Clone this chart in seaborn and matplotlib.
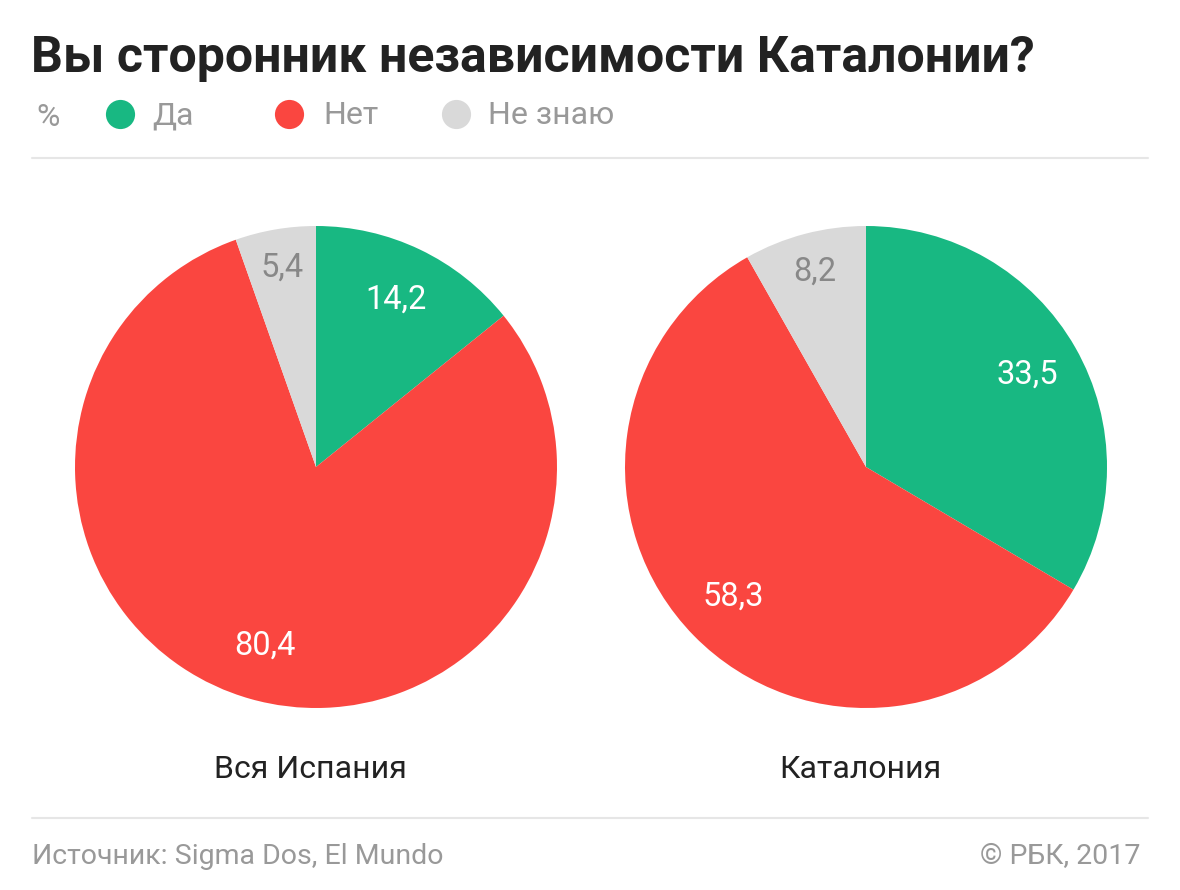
import numpy as np
import matplotlib.pyplot as plt
import seaborn as sns

# data
title = "Вы сторонник независимости Каталонии?"
categories = ["Да", "Нет", "Не знаю"]
regions = ["Вся Испания", "Каталония"]
spain_values = [14.2, 80.4, 5.4]
catalonia_values = [33.5, 58.3, 8.2]
source = "Источник: Sigma Dos, El Mundo"
credit = "© РБК, 2017"

colors = ["#18b882", "#fa4640", "#d9d9d9"]
label_colors = ["white", "white", "#888888"]

sns.set_theme(style="white")
plt.rcParams["font.family"] = ["Roboto", "DejaVu Sans"]

W, H = 1180, 890
fig = plt.figure(figsize=(W / 100, H / 100), dpi=100)
fig.patch.set_facecolor("white")


def fx(px):
    return px / W


def fy(py):
    return 1 - py / H


# title
fig.text(fx(31), fy(72), title, fontsize=36, fontweight="bold", color="#222222",
         ha="left", va="baseline")

# legend row
fig.text(fx(36), fy(126), "%", fontsize=23, color="#999999", ha="left", va="baseline")
for cx, tx, cat, col in zip([120, 289, 456], [152, 323, 488], categories, colors):
    fig.add_artist(plt.Line2D([fx(cx)], [fy(114)], marker="o", markersize=21,
                              markeredgewidth=0, color=col, transform=fig.transFigure))
    fig.text(fx(tx), fy(124), cat, fontsize=23, color="#999999", ha="left", va="baseline")

# separators
for y in [158, 818]:
    fig.add_artist(plt.Line2D([fx(32), fx(1148)], [fy(y), fy(y)], color="#e6e6e6",
                              linewidth=1.5, transform=fig.transFigure))

# pies
centers = [(316, 467), (866, 467)]
radius = 241
for (cx, cy), vals, name in zip(centers, [spain_values, catalonia_values], regions):
    ax = fig.add_axes([fx(cx - radius), fy(cy + radius), 2 * radius / W, 2 * radius / H])
    wedges, _ = ax.pie(vals, colors=colors, startangle=90, counterclock=False,
                       radius=1, wedgeprops=dict(linewidth=0))
    total = sum(vals)
    cum = 0
    for v, lc in zip(vals, label_colors):
        mid = (cum + v / 2) / total * 2 * np.pi
        cum += v
        r = 0.84 if v < 10 else 0.77
        ax.text(r * np.sin(mid), r * np.cos(mid), f"{v:.1f}".replace(".", ","),
                fontsize=23.5, color=lc, ha="center", va="center")
    ax.set_xlim(-1, 1)
    ax.set_ylim(-1, 1)
    ax.set_aspect("equal")
    ax.axis("off")
    fig.text(fx(cx - 6), fy(778), name, fontsize=23, color="#222222",
             ha="center", va="baseline")

# footer
fig.text(fx(32), fy(864), source, fontsize=20.5, color="#999999", ha="left", va="baseline")
fig.text(fx(1140), fy(864), credit, fontsize=20.5, color="#999999", ha="right", va="baseline")

fig.savefig("out.png", dpi=100, facecolor="white")
